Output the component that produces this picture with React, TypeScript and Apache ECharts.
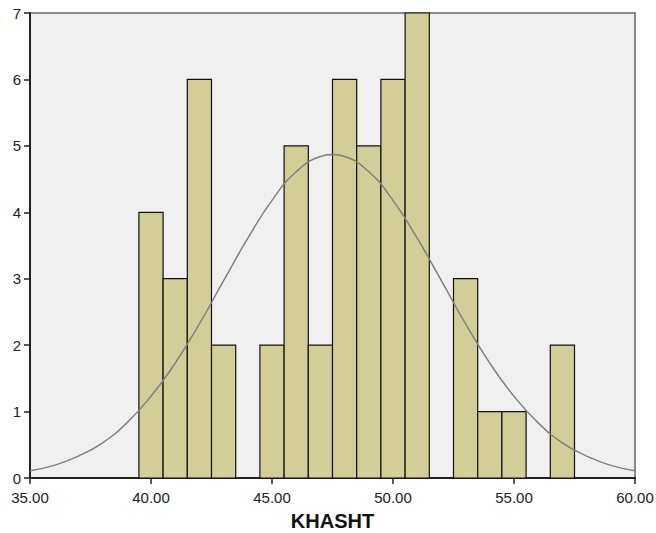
import React, { useEffect, useRef } from "react";
import * as echarts from "echarts";

const binCenters = [40, 41, 42, 43, 44, 45, 46, 47, 48, 49, 50, 51, 52, 53, 54, 55, 56, 57];
const binCounts = [4, 3, 6, 2, 0, 2, 5, 2, 6, 5, 6, 7, 0, 3, 1, 1, 0, 2];
const curveX = [35, 36, 37, 38, 39, 40, 41, 42, 43, 44, 45, 46, 47, 47.5, 48, 49, 50, 51, 52, 53, 54, 55, 56, 57, 58, 59, 60];
const curveY = [0.11, 0.19, 0.33, 0.53, 0.83, 1.23, 1.73, 2.32, 2.97, 3.61, 4.18, 4.61, 4.84, 4.87, 4.84, 4.61, 4.18, 3.61, 2.97, 2.32, 1.73, 1.23, 0.83, 0.53, 0.33, 0.19, 0.11];
const yTicks = [0, 1, 2, 3, 4, 5, 6, 7];

export default function App() {
  const ref = useRef<HTMLDivElement>(null);
  useEffect(() => {
    if (!ref.current) return;
    const chart = echarts.init(ref.current, null, { renderer: "svg" });
    const bars = binCenters
      .map((c, i) => [c, binCounts[i]])
      .filter((d) => d[1] > 0);
    chart.setOption({
      animation: false,
      backgroundColor: "#ffffff",
      grid: {
        left: 30,
        right: 21,
        top: 13,
        bottom: 55,
        outerBoundsMode: "none",
        containLabel: false,
        show: true,
        backgroundColor: "#F0F0F0",
        borderColor: "#666666",
        borderWidth: 1.5,
      },
      xAxis: {
        type: "value",
        min: 35,
        max: 60,
        interval: 5,
        name: "KHASHT",
        nameLocation: "middle",
        nameGap: 33,
        nameTextStyle: { fontFamily: "Liberation Sans", fontSize: 20, fontWeight: "bold", color: "#111" },
        axisLine: { show: true, onZero: false, lineStyle: { color: "#222", width: 2 } },
        axisTick: { show: true, length: 6, lineStyle: { color: "#222", width: 1.5 } },
        axisLabel: {
          fontFamily: "Liberation Sans",
          fontSize: 15,
          color: "#222",
          margin: 12,
          formatter: (v: number) => v.toFixed(2),
        },
        splitLine: { show: false },
      },
      yAxis: {
        type: "value",
        min: 0,
        max: 7,
        interval: 1,
        axisLine: { show: true, lineStyle: { color: "#222", width: 2 } },
        axisTick: { show: true, length: 6, lineStyle: { color: "#222", width: 1.5 } },
        axisLabel: {
          fontFamily: "Liberation Sans",
          fontSize: 15,
          color: "#222",
          margin: 9,
          formatter: (v: number) => (yTicks.includes(v) ? String(v) : ""),
        },
        splitLine: { show: false },
      },
      series: [
        {
          type: "custom",
          data: bars,
          renderItem: (params: any, api: any) => {
            const c = api.value(0);
            const v = api.value(1);
            const p0 = api.coord([c - 0.5, v]);
            const p1 = api.coord([c + 0.5, 0]);
            return {
              type: "rect",
              shape: { x: p0[0], y: p0[1], width: p1[0] - p0[0], height: p1[1] - p0[1] },
              style: { fill: "#D3CE98", stroke: "#111", lineWidth: 1.2 },
            };
          },
          z: 2,
        },
        {
          type: "line",
          data: curveX.map((x, i) => [x, curveY[i]]),
          smooth: true,
          symbol: "none",
          lineStyle: { color: "#808080", width: 1.5 },
          z: 3,
        },
      ],
    });
    return () => chart.dispose();
  }, []);
  return <div ref={ref} style={{ position: "absolute", left: 0, top: 0, width: 656, height: 533 }} />;
}
